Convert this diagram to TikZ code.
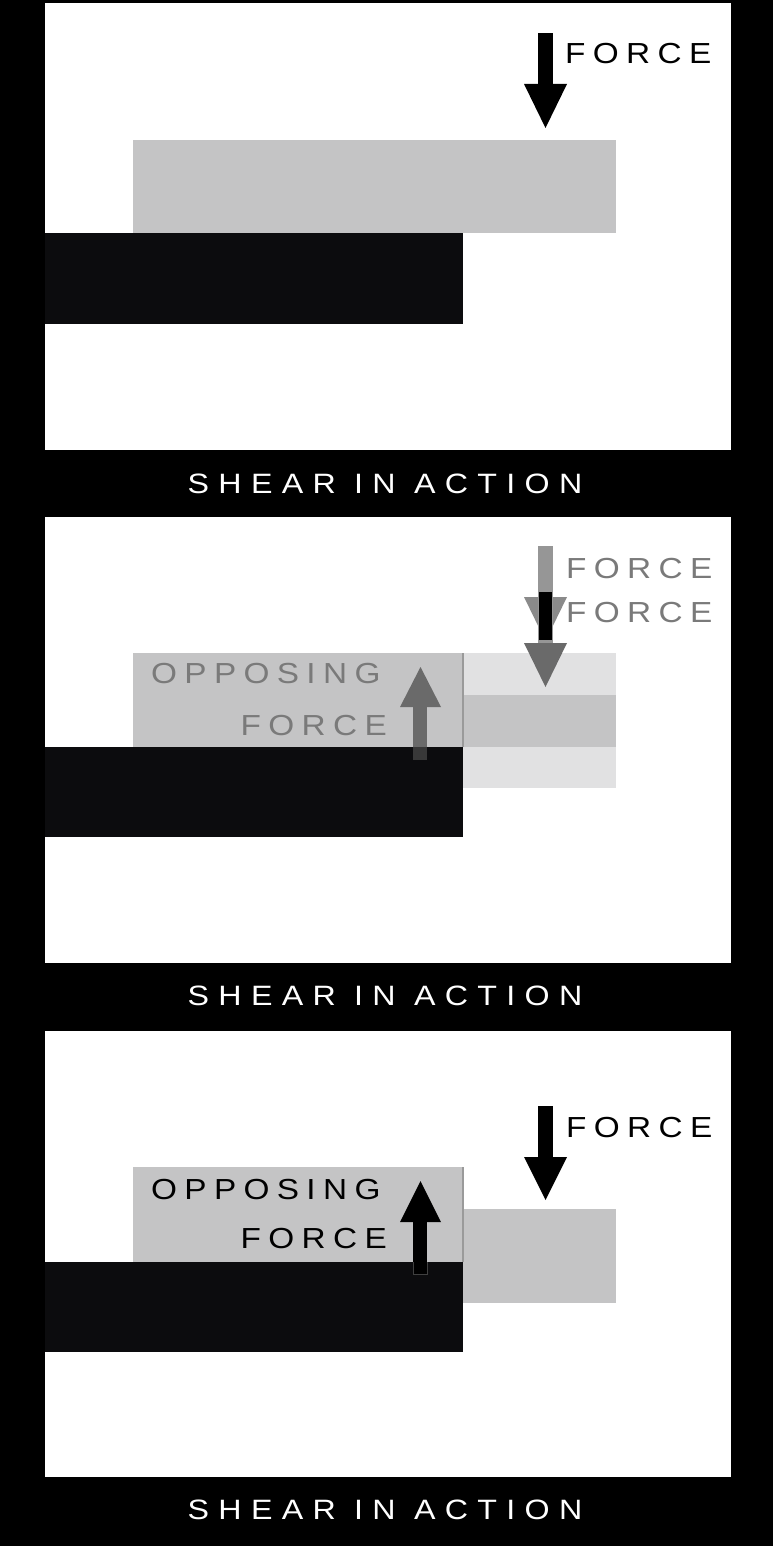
\documentclass[tikz,border=0pt]{standalone}
\usepackage{fontspec}
\newfontfamily\techfont[LetterSpace=22]{Liberation Sans}
\newfontfamily\capfont[LetterSpace=29]{Liberation Sans}
\newcommand{\widetext}[1]{\scalebox{1.15}[1]{#1}}
\definecolor{blockgray}{HTML}{C4C4C5}
\definecolor{blockblack}{HTML}{0C0C0E}
\definecolor{lightband}{HTML}{E1E1E2}
\definecolor{ghostgray}{HTML}{8A8A8A}
\definecolor{midgray}{HTML}{6A6A6A}
\definecolor{textgray}{HTML}{7A7A7A}
\definecolor{edgegray}{HTML}{9A9A9A}
\tikzset{
  panel/.style={fill=white},
  grayblock/.style={fill=blockgray},
  blackblock/.style={fill=blockblack},
  label/.style={inner sep=0pt, font=\techfont\fontsize{29}{29}\selectfont},
  caption/.style={inner sep=0pt, text=white, font=\capfont\fontsize{28}{28}\selectfont},
}
\begin{document}
\begin{tikzpicture}[x=1pt,y=-1pt]
\useasboundingbox (0,0) rectangle (773,1546);
\fill[black] (0,0) rectangle (773,1546);

% ---------------- panel 1 ----------------
\fill[panel] (45,3) rectangle (731,450);
\fill[grayblock] (133,140) rectangle (616,233);
\fill[blackblock] (45,233) rectangle (463,324);
\fill[black] (538,33) rectangle (553,85);
\fill[black] (524,84) -- (567,84) -- (545.5,128) -- cycle;
\node[label, anchor=base west] (force1) at (565,64) {\widetext{FORCE}};
\node[caption, anchor=base] (cap1) at (385,493) {\widetext{SHEAR IN ACTION}};

% ---------------- panel 2 ----------------
\fill[panel] (45,517) rectangle (731,963);
\fill[grayblock] (133,653) rectangle (463,747);
\fill[lightband] (463,653) rectangle (616,695);
\fill[blockgray] (463,695) rectangle (616,747);
\fill[lightband] (463,747) rectangle (616,788);
\draw[edgegray, line width=1.2pt] (463,653) -- (463,747);
\fill[blackblock] (45,747) rectangle (463,837);
% ghost force arrows
\fill[ghostgray] (524,597) -- (567,597) -- (545.5,641) -- cycle;
\fill[ghostgray!90!white] (538,546) rectangle (553,645);
\fill[black] (539,592) rectangle (552,640);
\fill[midgray] (524,643) -- (567,643) -- (545.5,687) -- cycle;
\node[label, anchor=base west, text=textgray] (force2a) at (566,578) {\widetext{FORCE}};
\node[label, anchor=base west, text=textgray] (force2b) at (566,622) {\widetext{FORCE}};
\node[label, anchor=base west, text=textgray] (opp2) at (151,683) {\widetext{OPPOSING}};
\node[label, anchor=base east, text=textgray] (oppf2) at (387,735) {\widetext{FORCE}};
% opposing arrow (gray)
\fill[midgray] (400,707) -- (441,707) -- (420.5,667) -- cycle;
\fill[midgray] (413,705) rectangle (427,747);
\fill[black!78] (413,747) rectangle (427,760);
\node[caption, anchor=base] (cap2) at (385,1005) {\widetext{SHEAR IN ACTION}};

% ---------------- panel 3 ----------------
\fill[panel] (45,1031) rectangle (731,1477);
\fill[grayblock] (133,1167) rectangle (463,1262);
\fill[grayblock] (463,1209) rectangle (616,1303);
\draw[edgegray, line width=1.2pt] (463,1167) -- (463,1262);
\fill[blackblock] (45,1262) rectangle (463,1352);
\fill[black] (538,1106) rectangle (553,1158);
\fill[black] (524,1157) -- (567,1157) -- (545.5,1200) -- cycle;
\node[label, anchor=base west] (force3) at (566,1137) {\widetext{FORCE}};
\node[label, anchor=base west] (opp3) at (151,1199) {\widetext{OPPOSING}};
\node[label, anchor=base east] (oppf3) at (387,1248) {\widetext{FORCE}};
\fill[black] (400,1222) -- (441,1222) -- (420.5,1181) -- cycle;
\fill[black] (413,1220) rectangle (427,1274);
\draw[black!75, line width=0.8pt] (413,1262) -- (413,1274) -- (427,1274) -- (427,1262);
\node[caption, anchor=base] (cap3) at (385,1519) {\widetext{SHEAR IN ACTION}};
\end{tikzpicture}
\end{document}
